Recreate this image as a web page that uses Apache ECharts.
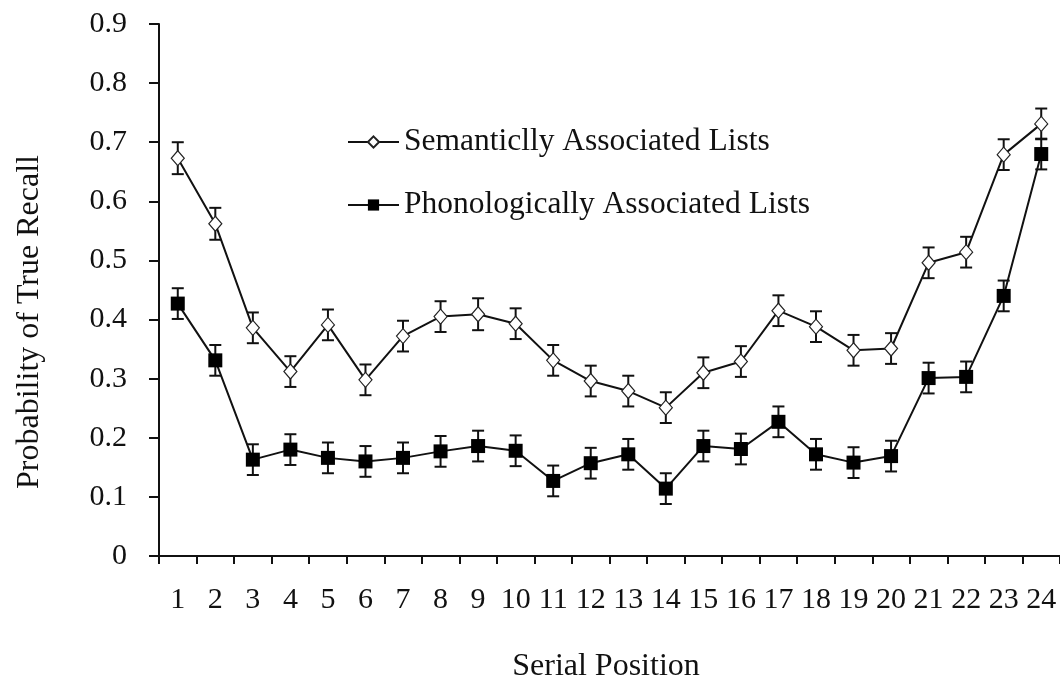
<!DOCTYPE html>
<html>
<head>
<meta charset="utf-8">
<title>Serial Position Curves</title>
<script src="https://cdn.jsdelivr.net/npm/echarts@6/dist/echarts.min.js"></script>
<style>
  html, body { margin: 0; padding: 0; background: #fff; }
  #chart { width: 1060px; height: 684px; }
</style>
</head>
<body>
<div id="chart"></div>
<script>
// Serial positions 1..24
const positions = ['1','2','3','4','5','6','7','8','9','10','11','12','13','14','15','16','17','18','19','20','21','22','23','24'];

// Mean probability of true recall per serial position
const semantic = [0.673, 0.562, 0.386, 0.312, 0.391, 0.298, 0.372, 0.405, 0.409, 0.393, 0.331, 0.296,
                  0.279, 0.251, 0.310, 0.329, 0.415, 0.388, 0.348, 0.351, 0.496, 0.514, 0.679, 0.731];
const phonological = [0.427, 0.331, 0.163, 0.180, 0.166, 0.160, 0.166, 0.177, 0.186, 0.178, 0.127, 0.157,
                      0.172, 0.114, 0.186, 0.181, 0.227, 0.172, 0.158, 0.169, 0.301, 0.303, 0.440, 0.680];

// Standard errors (half-length of each error bar)
const semanticErr = [0.027, 0.027, 0.026, 0.026, 0.026, 0.026, 0.026, 0.026, 0.027, 0.026, 0.026, 0.026,
                     0.026, 0.026, 0.026, 0.026, 0.026, 0.026, 0.026, 0.026, 0.026, 0.026, 0.026, 0.026];
const phonologicalErr = [0.026, 0.026, 0.026, 0.026, 0.026, 0.026, 0.026, 0.026, 0.026, 0.026, 0.026, 0.026,
                         0.026, 0.026, 0.026, 0.026, 0.026, 0.026, 0.026, 0.026, 0.026, 0.026, 0.026, 0.026];

const yTicks = ['0', '0.1', '0.2', '0.3', '0.4', '0.5', '0.6', '0.7', '0.8', '0.9'];

const seriesNames = ['Semanticlly Associated Lists', 'Phonologically Associated Lists'];

const FONT = '"Liberation Serif", "DejaVu Serif", serif';
const INK = '#111';

function errorData(means, errs) {
  return means.map((m, i) => [i, m - errs[i], m + errs[i]]);
}

function renderErrorBar(params, api) {
  const x = api.value(0);
  const lo = api.coord([x, api.value(1)]);
  const hi = api.coord([x, api.value(2)]);
  const cap = 6;
  const style = { stroke: INK, lineWidth: 2, fill: null };
  return {
    type: 'group',
    children: [
      { type: 'line', shape: { x1: hi[0], y1: hi[1], x2: lo[0], y2: lo[1] }, style: style },
      { type: 'line', shape: { x1: hi[0] - cap, y1: hi[1], x2: hi[0] + cap, y2: hi[1] }, style: style },
      { type: 'line', shape: { x1: lo[0] - cap, y1: lo[1], x2: lo[0] + cap, y2: lo[1] }, style: style }
    ]
  };
}

const chart = echarts.init(document.getElementById('chart'), null, { renderer: 'canvas' });

chart.setOption({
  animation: false,
  backgroundColor: '#ffffff',
  textStyle: { fontFamily: FONT, color: INK },
  grid: { left: 159, top: 24, width: 910, height: 532, containLabel: false },
  legend: {
    orient: 'vertical',
    left: 347,
    top: 126,
    padding: 0,
    itemWidth: 51,
    itemHeight: 14,
    itemGap: 31,
    data: seriesNames,
    textStyle: { fontFamily: FONT, fontSize: 31.5, color: INK }
  },
  xAxis: {
    type: 'category',
    data: positions,
    boundaryGap: true,
    axisLine: { lineStyle: { color: INK, width: 2 } },
    axisTick: { show: true, length: 8, inside: false, alignWithLabel: false, lineStyle: { color: INK, width: 2 } },
    axisLabel: { fontFamily: FONT, fontSize: 30, color: INK, margin: 29, interval: 0 },
    splitLine: { show: false }
  },
  yAxis: {
    type: 'value',
    min: 0,
    max: 0.9,
    interval: 0.1,
    axisLine: { show: true, lineStyle: { color: INK, width: 2 } },
    axisTick: { show: true, length: 10, lineStyle: { color: INK, width: 2 } },
    axisLabel: {
      fontFamily: FONT, fontSize: 30, color: INK, margin: 32,
      formatter: (v) => yTicks[Math.round(v * 10)]
    },
    splitLine: { show: false }
  },
  graphic: [
    {
      type: 'text',
      x: 30, y: 322,
      rotation: Math.PI / 2,
      style: {
        text: 'Probability of True Recall',
        font: '32px ' + FONT,
        fill: INK,
        align: 'center',
        verticalAlign: 'middle'
      }
    },
    {
      type: 'text',
      x: 606, y: 667,
      style: {
        text: 'Serial Position',
        font: '32px ' + FONT,
        fill: INK,
        align: 'center',
        verticalAlign: 'middle'
      }
    }
  ],
  series: [
    {
      name: seriesNames[0] + ' error',
      type: 'custom',
      renderItem: renderErrorBar,
      data: errorData(semantic, semanticErr),
      encode: { x: 0, y: [1, 2] },
      z: 1,
      silent: true
    },
    {
      name: seriesNames[1] + ' error',
      type: 'custom',
      renderItem: renderErrorBar,
      data: errorData(phonological, phonologicalErr),
      encode: { x: 0, y: [1, 2] },
      z: 1,
      silent: true
    },
    {
      name: seriesNames[0],
      type: 'line',
      data: semantic,
      symbol: 'diamond',
      symbolSize: [13, 15],
      lineStyle: { color: INK, width: 2 },
      itemStyle: { color: '#ffffff', borderColor: '#222', borderWidth: 1.2 },
      z: 3
    },
    {
      name: seriesNames[1],
      type: 'line',
      data: phonological,
      symbol: 'rect',
      symbolSize: 14,
      lineStyle: { color: INK, width: 2 },
      itemStyle: { color: '#000000', borderColor: '#000', borderWidth: 0 },
      z: 3
    }
  ]
});
</script>
</body>
</html>
